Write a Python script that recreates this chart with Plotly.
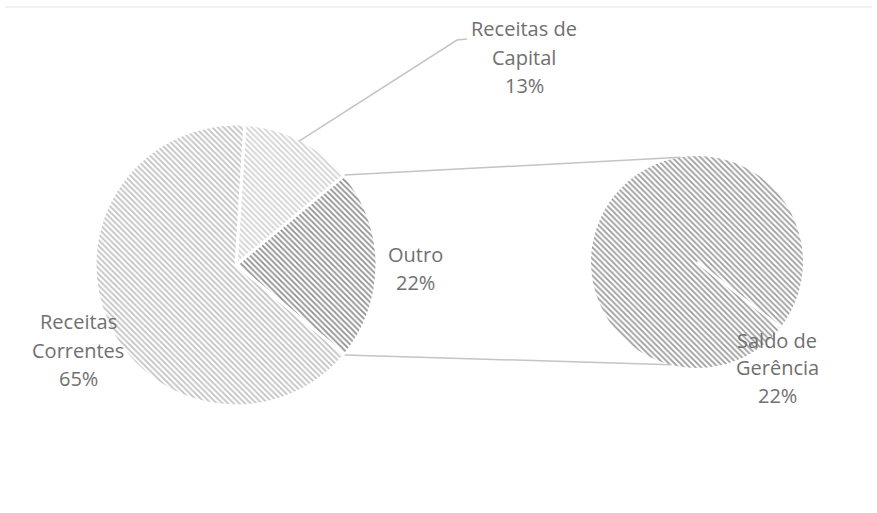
import math
import plotly.graph_objects as go

# ---- data ----
main_labels = ["Receitas de Capital", "Outro", "Receitas Correntes"]
main_values = [13, 22, 65]
sec_labels = ["Saldo de Gerência"]
sec_values = [22]

# label text lines
lab_capital = ["Receitas de", "Capital", "13%"]
lab_outro = ["Outro", "22%"]
lab_correntes = ["Receitas", "Correntes", "65%"]
lab_saldo = ["Saldo de", "Gerência", "22%"]

W, H = 877, 513
TXT = "#707070"
FONT = "Open Sans"

# geometry (pixels)
MC = (236, 265); MR = 141
SC = (697, 262); SR = 106

def px(x):
    return x / W

def py(y):
    return 1 - y / H

total = sum(main_values)
deg = [v / total * 360 for v in main_values]
# Excel centres the "other" slice at 3 o'clock
rotation = 90 - (deg[0] + deg[1] / 2)

fig = go.Figure()
fig.add_trace(go.Pie(
    labels=main_labels, values=main_values, sort=False, direction="clockwise",
    rotation=rotation, textinfo="none", hoverinfo="label+percent",
    domain=dict(x=[px(MC[0] - MR), px(MC[0] + MR)], y=[py(MC[1] + MR), py(MC[1] - MR)]),
    marker=dict(
        colors=["#f3f3f3", "#d2d2d2", "#ececec"],
        line=dict(color="white", width=3),
        pattern=dict(shape=["\\", "\\", "\\"], fgcolor=["#d2d2d2", "#909090", "#c2c2c2"],
                     size=4, solidity=0.45),
    ),
    showlegend=False,
))
fig.add_trace(go.Pie(
    labels=sec_labels, values=sec_values, sort=False, direction="clockwise",
    textinfo="none", hoverinfo="label",
    domain=dict(x=[px(SC[0] - SR), px(SC[0] + SR)], y=[py(SC[1] + SR), py(SC[1] - SR)]),
    marker=dict(
        colors=["#dcdcdc"],
        line=dict(color="white", width=0),
        pattern=dict(shape="\\", fgcolor="#9c9c9c", size=4, solidity=0.45),
    ),
    showlegend=False,
))

def on_circle(c, r, a):
    a = math.radians(a)
    return c[0] + r * math.sin(a), c[1] - r * math.cos(a)

shapes = []
a1 = rotation + deg[0]
a2 = a1 + deg[1]
p1 = on_circle(MC, MR, a1)
p2 = on_circle(MC, MR, a2)
q1 = on_circle(SC, SR, -9)
q2 = on_circle(SC, SR, 194)
for p, q in [(p1, q1), (p2, q2)]:
    shapes.append(dict(type="line", xref="paper", yref="paper",
                       x0=px(p[0]), y0=py(p[1]), x1=px(q[0]), y1=py(q[1]),
                       line=dict(color="#c4c4c4", width=1.5)))
# leader line for capital label
s = on_circle(MC, MR - 2, rotation + deg[0] / 2)
shapes.append(dict(type="path", xref="paper", yref="paper",
                   path=f"M {px(s[0])},{py(s[1])} L {px(457)},{py(40)} L {px(467)},{py(39)}",
                   line=dict(color="#c4c4c4", width=1.5)))
# secondary pie start line
e = on_circle(SC, SR, 128)
shapes.append(dict(type="line", xref="paper", yref="paper",
                   x0=px(SC[0]), y0=py(SC[1]), x1=px(e[0]), y1=py(e[1]),
                   line=dict(color="white", width=2.5)))
# faint frame top
shapes.append(dict(type="line", xref="paper", yref="paper",
                   x0=px(5), y0=py(7), x1=px(872), y1=py(7),
                   line=dict(color="#ececec", width=1.5)))

annotations = []
def add_label(lines, cx, ys):
    for t, y in zip(lines, ys):
        annotations.append(dict(text=t, x=px(cx), y=py(y), xref="paper", yref="paper",
                                showarrow=False, xanchor="center", yanchor="middle",
                                font=dict(family=FONT, size=20, color=TXT)))

add_label(lab_capital, 524, [28, 57, 85])
add_label(lab_outro, 415, [254, 282])
add_label(lab_correntes, 78, [321, 350, 378])
add_label(lab_saldo, 777, [340, 367, 395])

fig.update_layout(
    width=W, height=H, margin=dict(l=0, r=0, t=0, b=0),
    paper_bgcolor="white", plot_bgcolor="white",
    shapes=shapes, annotations=annotations,
)
fig.write_html("out.html", config={"displayModeBar": False},
               post_script="document.body.style.margin='0';document.body.style.overflow='hidden';")
